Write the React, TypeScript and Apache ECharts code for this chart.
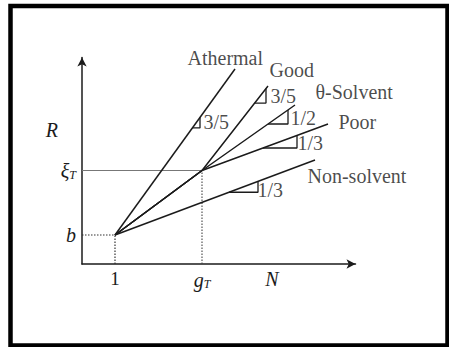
import React, { useEffect, useRef } from "react";
import * as echarts from "echarts";

// Axis reference marks (data units) and their labels
const xTickValues = [3.3, 12.0, 19.0];
const xTickLabels = ["{n|1}", "{i|g}{s|T}", "{i|N}"];
const yTickValues = [2.9, 9.35, 13.4];
const yTickLabels = ["{i|b}", "{i|ξ}{s|T}", "{r|R}"];

// Scaling regimes: R versus N
const origin = [3.3, 2.9];
const crossover = [12.0, 9.35];
const athermal = [[3.3, 2.9], [15.3, 19.5]];
const good = [[3.3, 2.9], [12.0, 9.35], [18.6, 17.8]];
const thetaSolvent = [[3.3, 2.9], [12.0, 9.35], [21.3, 15.9]];
const poor = [[3.3, 2.9], [12.0, 9.35], [24.6, 14.0]];
const nonSolvent = [[3.3, 2.9], [23.3, 10.4]];

const curveNames = ["Athermal", "Good", "θ-Solvent", "Poor", "Non-solvent"];
const curveNamePos = [[10.5, 20.6], [18.7, 19.4], [23.3, 17.2], [25.6, 14.2], [22.5, 8.8]];

// Slope triangles: x-range along each curve, plus exponent text
const slopeRanges = [[11.04, 11.8], [17.27, 18.4], [18.6, 20.6], [18.1, 21.5], [14.7, 17.6]];
const slopeTexts = ["3/5", "3/5", "1/2", "1/3", "1/3"];
const slopeTextPos = [[12.1, 14.2], [18.8, 16.8], [20.8, 14.6], [21.5, 12.1], [17.5, 7.4]];

const FONT = "'Liberation Serif', 'DejaVu Serif', serif";
const INK = "#1b1b1b";

function yOn(pts: number[][], x: number): number {
  for (let i = 0; i < pts.length - 1; i++) {
    const [x0, y0] = pts[i];
    const [x1, y1] = pts[i + 1];
    if (x >= x0 && x <= x1) return y0 + ((x - x0) / (x1 - x0)) * (y1 - y0);
  }
  const n = pts.length;
  const [x0, y0] = pts[n - 2];
  const [x1, y1] = pts[n - 1];
  return y0 + ((x - x0) / (x1 - x0)) * (y1 - y0);
}

function pickLabel(values: number[], labels: string[], v: number): string {
  const i = values.findIndex((t) => Math.abs(t - v) < 1e-6);
  return i >= 0 ? labels[i] : "";
}

const rich = {
  n: { fontFamily: FONT, fontSize: 19, color: INK },
  i: { fontFamily: FONT, fontSize: 20, fontStyle: "italic", color: INK },
  s: { fontFamily: FONT, fontSize: 12, fontStyle: "italic", color: INK, padding: [9, 0, 0, 0] },
  r: { fontFamily: FONT, fontSize: 20, fontStyle: "italic", color: INK, padding: [0, 18, 0, 0] },
};

export default function App() {
  const ref = useRef<HTMLDivElement>(null);

  useEffect(() => {
    document.body.style.margin = "0";
    if (!ref.current) return;
    const chart = echarts.init(ref.current, undefined, { renderer: "svg" });

    const curves = [athermal, good, thetaSolvent, poor, nonSolvent];

    const guide = (data: number[][], type: any, color: string, width: number) => ({
      type: "line",
      data,
      symbol: "none",
      silent: true,
      lineStyle: { color, width, type },
      z: 1,
    });

    const curveSeries = curves.map((pts) => ({
      type: "line",
      data: pts,
      symbol: "none",
      silent: true,
      lineStyle: { color: INK, width: 1.5 },
      z: 3,
    }));

    const triangleSeries = curves.map((pts, k) => {
      const [x1, x2] = slopeRanges[k];
      const y1 = yOn(pts, x1);
      const y2 = yOn(pts, x2);
      return {
        type: "line",
        data: [[x1, y1], [x2, y1], [x2, y2]],
        symbol: "none",
        silent: true,
        lineStyle: { color: INK, width: 1.3 },
        z: 3,
      };
    });

    const textSeries = (pos: number[][], texts: string[]) => ({
      type: "scatter",
      data: pos.map((p, k) => ({ value: p, name: texts[k] })),
      symbolSize: 1,
      itemStyle: { color: "transparent" },
      silent: true,
      z: 4,
      label: {
        show: true,
        position: "right",
        distance: 0,
        formatter: (p: any) => p.name,
        fontFamily: FONT,
        fontSize: 20,
        color: INK,
      },
    });

    chart.setOption({
      animation: false,
      backgroundColor: "#ffffff",
      grid: { left: 82, right: 93.5, top: 57.5, bottom: 83 },
      xAxis: {
        type: "value",
        min: 0,
        max: 27.35,
        splitLine: { show: false },
        axisTick: { show: false },
        axisLine: {
          show: true,
          onZero: false,
          symbol: ["none", "arrow"],
          symbolSize: [7, 9],
          lineStyle: { color: INK, width: 1.5 },
        },
        axisLabel: {
          customValues: xTickValues,
          margin: 5,
          formatter: (v: number) => pickLabel(xTickValues, xTickLabels, v),
          rich,
        },
      },
      yAxis: {
        type: "value",
        min: 0,
        max: 20.65,
        splitLine: { show: false },
        axisTick: { show: false },
        axisLine: {
          show: true,
          onZero: false,
          symbol: ["none", "arrow"],
          symbolSize: [7, 9],
          lineStyle: { color: INK, width: 1.5 },
        },
        axisLabel: {
          customValues: yTickValues,
          margin: 6,
          formatter: (v: number) => pickLabel(yTickValues, yTickLabels, v),
          rich,
        },
      },
      graphic: [
        {
          type: "rect",
          shape: { x: 10.5, y: 6, width: 437, height: 339.5 },
          style: { fill: "none", stroke: "#000", lineWidth: 4.5 },
          silent: true,
        },
      ],
      series: [
        guide([[0, origin[1]], origin], [1.5, 1.5], "#333", 1.2),
        guide([[origin[0], 0], origin], [1.5, 1.5], "#333", 1.2),
        guide([[0, crossover[1]], crossover], "solid", "#777", 1),
        guide([[crossover[0], 0], crossover], [1.5, 1.5], "#444", 1.1),
        ...curveSeries,
        ...triangleSeries,
        textSeries(curveNamePos, curveNames),
        textSeries(slopeTextPos, slopeTexts),
      ],
    });

    return () => chart.dispose();
  }, []);

  return <div ref={ref} style={{ width: 449, height: 347 }} />;
}
